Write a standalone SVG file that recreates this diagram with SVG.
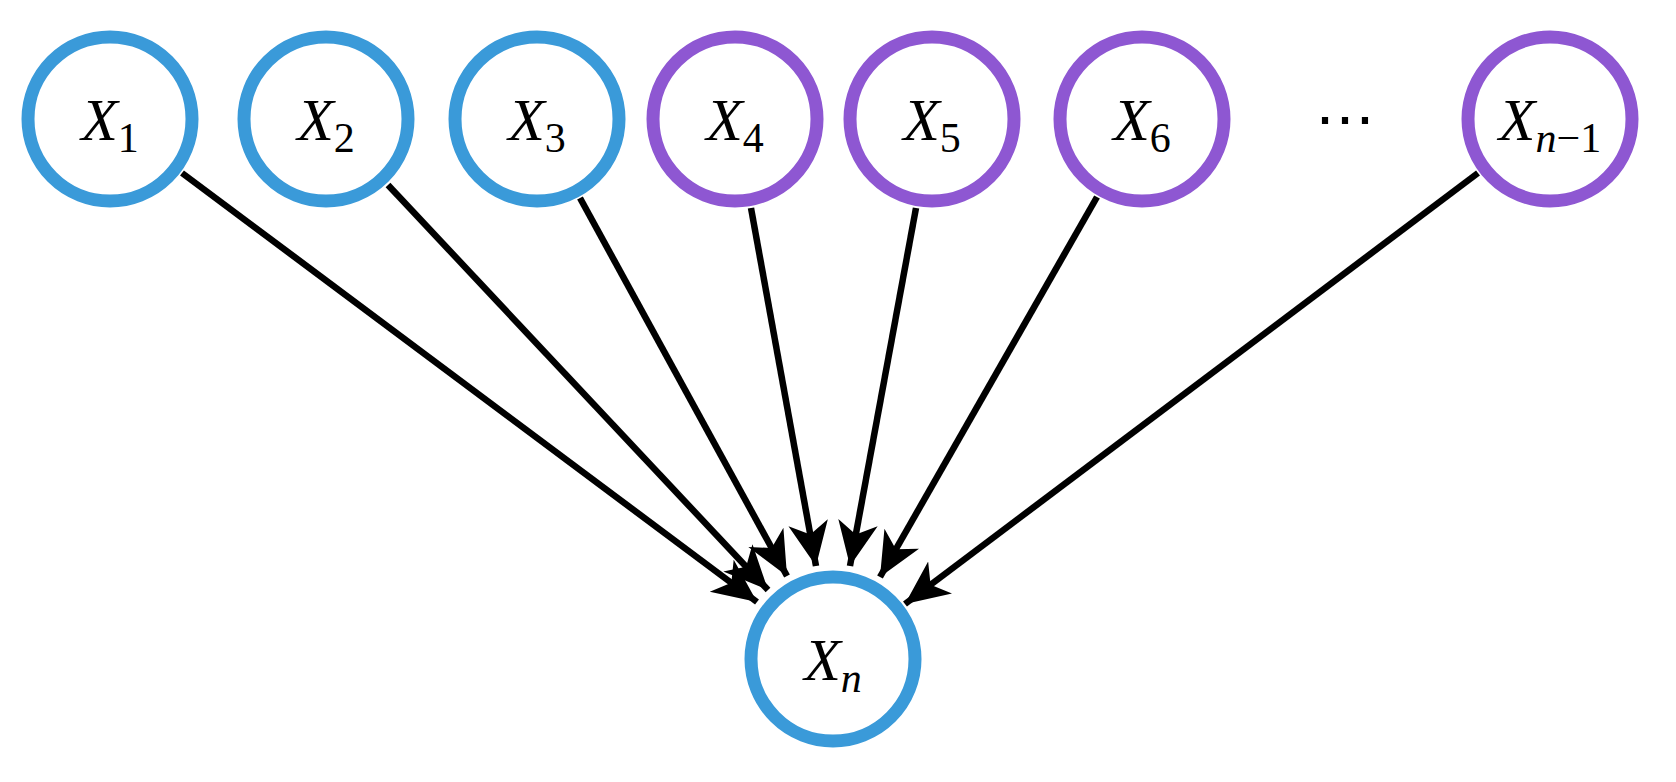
<svg xmlns="http://www.w3.org/2000/svg" width="1676" height="782" viewBox="0 0 1676 782">
<style>
.b{fill:#fff;stroke:#3a9ad9;stroke-width:13}
.p{fill:#fff;stroke:#8e57d2;stroke-width:13}
.e{stroke:#000;stroke-width:6.5;fill:none;marker-end:url(#ah)}
text{font-family:"Liberation Serif",serif;font-size:60px;fill:#000}
.x{font-style:italic}
.s{font-size:42px}
</style>
<defs><marker id="ah" markerUnits="userSpaceOnUse" markerWidth="50" markerHeight="44" refX="44" refY="20" orient="auto"><path d="M0,0 L44,20 L0,40 L12,20 Z" fill="#000"/></marker></defs>
<rect width="1676" height="782" fill="#fff"/>
<g id="connectors">
<line class="e" x1="182" y1="173" x2="757" y2="602"/>
<line class="e" x1="388" y1="185" x2="768" y2="590"/>
<line class="e" x1="580" y1="198" x2="787" y2="576"/>
<line class="e" x1="751" y1="208" x2="816" y2="566"/>
<line class="e" x1="916" y1="208" x2="850" y2="566"/>
<line class="e" x1="1097" y1="197" x2="880" y2="577"/>
<line class="e" x1="1478" y1="173" x2="905" y2="604"/>
</g>
<g id="n1"><circle class="b" cx="110" cy="119" r="82"/><text x="110" y="140" text-anchor="middle"><tspan class="x">X</tspan><tspan class="s" dy="12">1</tspan></text></g>
<g id="n2"><circle class="b" cx="326" cy="119" r="82"/><text x="326" y="140" text-anchor="middle"><tspan class="x">X</tspan><tspan class="s" dy="12">2</tspan></text></g>
<g id="n3"><circle class="b" cx="537" cy="119" r="82"/><text x="537" y="140" text-anchor="middle"><tspan class="x">X</tspan><tspan class="s" dy="12">3</tspan></text></g>
<g id="n4"><circle class="p" cx="735" cy="119" r="82"/><text x="735" y="140" text-anchor="middle"><tspan class="x">X</tspan><tspan class="s" dy="12">4</tspan></text></g>
<g id="n5"><circle class="p" cx="932" cy="119" r="82"/><text x="932" y="140" text-anchor="middle"><tspan class="x">X</tspan><tspan class="s" dy="12">5</tspan></text></g>
<g id="n6"><circle class="p" cx="1142" cy="119" r="82"/><text x="1142" y="140" text-anchor="middle"><tspan class="x">X</tspan><tspan class="s" dy="12">6</tspan></text></g>
<g id="dots"><text x="1345" y="140" text-anchor="middle">⋯</text></g>
<g id="nm1"><circle class="p" cx="1550" cy="119" r="82"/><text x="1550" y="140" text-anchor="middle"><tspan class="x">X</tspan><tspan class="s x" dy="12">n</tspan><tspan class="s" dy="0">−1</tspan></text></g>
<g id="nn"><circle class="b" cx="833" cy="659" r="82"/><text x="833" y="680" text-anchor="middle"><tspan class="x">X</tspan><tspan class="s x" dy="12">n</tspan></text></g>
</svg>
